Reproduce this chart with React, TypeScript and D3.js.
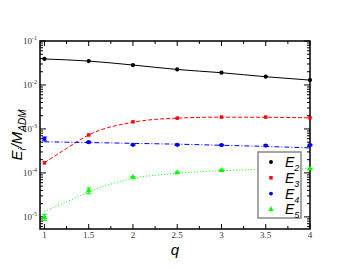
import React, { useEffect, useRef } from "react";
import * as d3 from "d3";

const qValues = [1, 1.5, 2, 2.5, 3, 3.5, 4];
const e2 = [0.039, 0.035, 0.0284, 0.0225, 0.019, 0.0154, 0.0129];
const e3 = [1.69e-4, 7.3e-4, 1.45e-3, 1.76e-3, 1.86e-3, 1.86e-3, 1.79e-3];
const e4 = [5.96e-4, 5.0e-4, 4.35e-4, 4.35e-4, 4.3e-4, 4.19e-4, 4.3e-4];
const e4Err = [0.6e-4, 0.2e-4, 0.15e-4, 0.15e-4, 0.15e-4, 0.15e-4, 0.15e-4];
const e5 = [9.8e-6, 3.95e-5, 8.0e-5, 1.02e-4, 1.15e-4, 1.2e-4, 1.23e-4];
const e5Err = [1.6e-6, 0.6e-5, 0.3e-5, 0.3e-5, 0.3e-5, 0.3e-5, 0.3e-5];

// fit curves
const fitQ = [1, 1.25, 1.5, 2, 2.5, 3, 3.5, 4];
const e3Fit = [1.69e-4, 3.6e-4, 7.3e-4, 1.42e-3, 1.76e-3, 1.85e-3, 1.84e-3, 1.79e-3];
const e4Fit = [5.1e-4, 5.0e-4, 4.9e-4, 4.7e-4, 4.5e-4, 4.25e-4, 4.0e-4, 3.7e-4];
const e5Fit = [1.33e-5, 2.2e-5, 3.7e-5, 7.5e-5, 9.8e-5, 1.12e-4, 1.2e-4, 1.24e-4];

const xTicks = [1, 1.5, 2, 2.5, 3, 3.5, 4];
const yDecades = [-5, -4, -3, -2, -1];
const legendNames = ["2", "3", "4", "5"];

const W = 349;
const H = 270;

export default function App() {
  const ref = useRef<SVGSVGElement>(null);

  useEffect(() => {
    const svg = d3.select(ref.current);
    svg.selectAll("*").remove();

    const left = 40, right = 310, top = 41, bottom = 229;
    const x = d3.scaleLinear().domain([0.95, 4]).range([left, right]);
    const y = d3.scaleLog().domain([5.3e-6, 0.1]).range([bottom, top]);

    const g = svg.append("g");

    // minor / major ticks on all four sides, pointing inward
    const xMinor = d3.range(1.25, 4, 0.5);
    const tick = (x1: number, y1: number, x2: number, y2: number) =>
      g.append("line").attr("x1", x1).attr("y1", y1).attr("x2", x2).attr("y2", y2)
        .attr("stroke", "#000").attr("stroke-width", 1);

    xTicks.forEach((t) => {
      tick(x(t), bottom, x(t), bottom - 5);
      tick(x(t), top, x(t), top + 5);
    });
    xMinor.forEach((t) => {
      tick(x(t), bottom, x(t), bottom - 3);
      tick(x(t), top, x(t), top + 3);
    });
    yDecades.forEach((d) => {
      const v = Math.pow(10, d);
      tick(left, y(v), left + 6, y(v));
      tick(right, y(v), right - 6, y(v));
      for (let k = 2; k <= 9; k++) {
        const m = k * v;
        if (m > 0.1) continue;
        tick(left, y(m), left + 3, y(m));
        tick(right, y(m), right - 3, y(m));
      }
    });
    [6, 7, 8, 9].forEach((k) => {
      const m = k * 1e-6;
      tick(left, y(m), left + 3, y(m));
      tick(right, y(m), right - 3, y(m));
    });

    // frame
    g.append("rect").attr("x", left).attr("y", top).attr("width", right - left)
      .attr("height", bottom - top).attr("fill", "none")
      .attr("stroke", "#000").attr("stroke-width", 1.5);

    // tick labels
    xTicks.forEach((t) => {
      g.append("text").attr("x", x(t)).attr("y", bottom + 9)
        .attr("text-anchor", "middle").attr("font-family", "Liberation Serif")
        .attr("font-size", 9).attr("fill", "#333").text(String(t));
    });
    yDecades.forEach((d) => {
      const t = g.append("text").attr("x", 37).attr("y", y(Math.pow(10, d)) + 3)
        .attr("text-anchor", "end").attr("font-family", "Liberation Serif")
        .attr("font-size", 9).attr("fill", "#333");
      t.append("tspan").text("10");
      t.append("tspan").attr("dy", -4).attr("font-size", 6).text(String(d));
    });

    // axis titles
    g.append("text").attr("x", 175).attr("y", 255).attr("text-anchor", "middle")
      .attr("font-family", "Liberation Sans").attr("font-style", "italic")
      .attr("font-size", 15).text("q");
    const yl = g.append("text")
      .attr("transform", `translate(22,${(top + bottom) / 2}) rotate(-90)`)
      .attr("text-anchor", "middle").attr("font-family", "Liberation Sans")
      .attr("font-style", "italic").attr("font-size", 15);
    yl.append("tspan").text("E");
    yl.append("tspan").attr("font-size", 10).attr("dy", 4).text("i");
    yl.append("tspan").attr("dy", -4).text("/M");
    yl.append("tspan").attr("font-size", 10).attr("dy", 4).text("ADM");

    const line = d3.line<[number, number]>()
      .x((d) => x(d[0])).y((d) => y(d[1])).curve(d3.curveMonotoneX);

    const series = [
      { q: qValues, v: e2, color: "#000", dash: null },
      { q: fitQ, v: e3Fit, color: "#ff0000", dash: "4,2" },
      { q: fitQ, v: e4Fit, color: "#0000ff", dash: "5,2,1,2" },
      { q: fitQ, v: e5Fit, color: "#00ff00", dash: "1,2" },
    ];
    series.forEach((s) => {
      const p = g.append("path")
        .attr("d", line(s.q.map((q, i) => [q, s.v[i]] as [number, number])))
        .attr("fill", "none").attr("stroke", s.color).attr("stroke-width", 1);
      if (s.dash) p.attr("stroke-dasharray", s.dash);
    });

    // error bars
    const errBars = (vals: number[], errs: number[], color: string) => {
      qValues.forEach((q, i) => {
        const y1 = y(vals[i] - errs[i]);
        const y2 = y(vals[i] + errs[i]);
        const cx = x(q);
        g.append("line").attr("x1", cx).attr("x2", cx).attr("y1", y1).attr("y2", y2)
          .attr("stroke", color).attr("stroke-width", 1);
        [y1, y2].forEach((yy) =>
          g.append("line").attr("x1", cx - 2.5).attr("x2", cx + 2.5).attr("y1", yy).attr("y2", yy)
            .attr("stroke", color).attr("stroke-width", 1));
      });
    };
    errBars(e4, e4Err, "#0000ff");
    errBars(e5, e5Err, "#00ff00");

    // markers
    const sym = (type: d3.SymbolType, size: number) => d3.symbol().type(type).size(size)();
    const markers = (vals: number[], type: d3.SymbolType, color: string, size: number) => {
      qValues.forEach((q, i) => {
        g.append("path").attr("d", sym(type, size))
          .attr("transform", `translate(${x(q)},${y(vals[i])})`).attr("fill", color);
      });
    };
    markers(e2, d3.symbolCircle, "#000", 14);
    markers(e3, d3.symbolSquare, "#ff0000", 12);
    markers(e4, d3.symbolCircle, "#0000ff", 14);
    markers(e5, d3.symbolTriangle, "#00ff00", 14);

    // legend
    const lx = 258, ly = 152;
    g.append("rect").attr("x", lx).attr("y", ly).attr("width", 43).attr("height", 66)
      .attr("fill", "#fff").attr("stroke", "#888").attr("stroke-width", 1.5);
    const legendSym = [d3.symbolCircle, d3.symbolSquare, d3.symbolCircle, d3.symbolTriangle];
    const legendCol = ["#000", "#ff0000", "#0000ff", "#00ff00"];
    legendNames.forEach((n, i) => {
      const yy = ly + 10 + i * 15.8;
      g.append("path").attr("d", sym(legendSym[i], 12))
        .attr("transform", `translate(${lx + 13},${yy})`).attr("fill", legendCol[i]);
      const t = g.append("text").attr("x", lx + 27).attr("y", yy + 5)
        .attr("font-family", "Liberation Sans").attr("font-style", "italic").attr("font-size", 14);
      t.append("tspan").text("E");
      t.append("tspan").attr("font-size", 9).attr("dy", 4).text(n);
    });
  }, []);

  return (
    <svg ref={ref} width={W} height={H}
      style={{ position: "absolute", left: 0, top: 0, background: "#fff" }} />
  );
}
